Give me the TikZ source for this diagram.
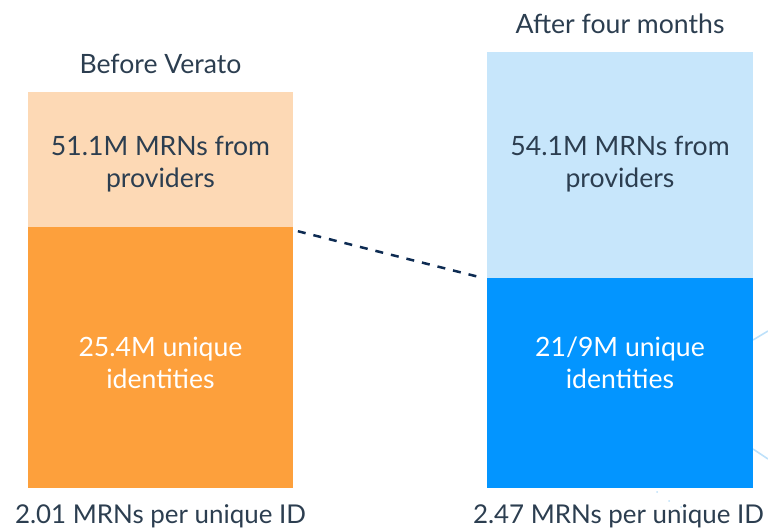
\documentclass[tikz,border=0pt]{standalone}
\usepackage{fontspec}
\setmainfont{Lato}
\usetikzlibrary{positioning}

\definecolor{inkdark}{RGB}{44,62,80}
\definecolor{dashnavy}{RGB}{13,43,82}
\definecolor{peachlight}{RGB}{253,217,181}
\definecolor{orangemain}{RGB}{253,160,60}
\definecolor{skylight}{RGB}{199,230,251}
\definecolor{bluemain}{RGB}{3,149,255}
\definecolor{lineblue}{RGB}{190,225,250}

\tikzset{
  barbox/.style={rectangle, inner sep=0pt, outer sep=0pt},
  headtext/.style={text=inkdark, font=\fontsize{26.6}{30}\selectfont},
  intext/.style={align=center, font=\fontsize{26.6}{32}\selectfont},
  foottext/.style={text=inkdark, font=\fontsize{25.9}{30}\selectfont}
}

\begin{document}
\begin{tikzpicture}[x=1pt, y=-1pt]
  \useasboundingbox (0,0) rectangle (768,529);

  % faint lines at the right edge
  \draw[lineblue, line width=1.6pt] (753,340) -- (768,331);
  \draw[lineblue, line width=1.6pt] (753,449) -- (768,459);
  \foreach \dx/\dy in {657/492, 669/501, 681/507, 705/520}
    \fill[lineblue] (\dx,\dy) circle (1pt);

  % before
  \node[barbox, fill=peachlight, minimum width=265pt, minimum height=135pt] (provbefore) at (160.5,159.5) {};
  \node[barbox, fill=orangemain, minimum width=265pt, minimum height=261pt] (idsbefore) at (160.5,357.5) {};
  \node[headtext] (headbefore) at (160.5,64) {Before Verato};
  \node[intext, text=inkdark] (provbeforetxt) at (160.5,164) {51.1M MRNs from\\providers};
  \node[intext, text=white] (idsbeforetxt) at (160.5,363) {25.4M unique\\identities};
  \node[foottext] (footbefore) at (160.5,516) {2.01 MRNs per unique ID};

  % after
  \node[barbox, fill=skylight, minimum width=266pt, minimum height=226pt] (provafter) at (620,165) {};
  \node[barbox, fill=bluemain, minimum width=266pt, minimum height=210pt] (idsafter) at (620,383) {};
  \node[headtext] (headafter) at (620,24) {After four months};
  \node[intext, text=inkdark] (provaftertxt) at (620,164) {54.1M MRNs from\\providers};
  \node[intext, text=white] (idsaftertxt) at (620,363) {21/9M unique\\identities};
  \node[foottext] (footafter) at (618.5,516) {2.47 MRNs per unique ID};

  \draw[dashnavy, line width=2.5pt, dash pattern=on 8pt off 8pt, shorten <=5pt, shorten >=5pt]
    ([yshift=-3pt]idsbefore.north east) -- ([yshift=-1pt]idsafter.north west);
\end{tikzpicture}
\end{document}
